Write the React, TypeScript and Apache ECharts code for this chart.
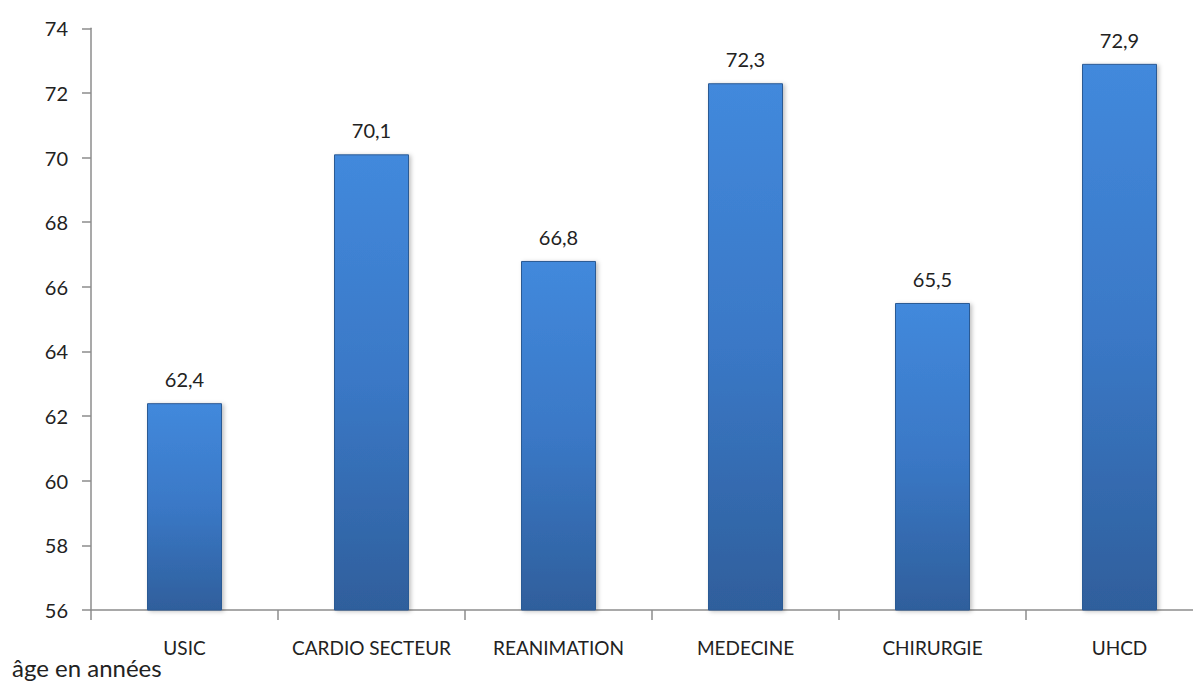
import React, { useEffect, useRef } from "react";
import * as echarts from "echarts";

const categories = ["USIC", "CARDIO SECTEUR", "REANIMATION", "MEDECINE", "CHIRURGIE", "UHCD"];
const values = [62.4, 70.1, 66.8, 72.3, 65.5, 72.9];
const yMin = 56;
const yMax = 74;
const yInterval = 2;
const axisTitle = "âge en années";

export default function App() {
  const ref = useRef<HTMLDivElement>(null);
  useEffect(() => {
    if (!ref.current) return;
    const chart = echarts.init(ref.current, null, { renderer: "svg" });
    const font = "Lato, 'Open Sans', sans-serif";
    chart.setOption({
      animation: false,
      backgroundColor: "#ffffff",
      grid: { left: 91, top: 28.3, width: 1122, bottom: 77, containLabel: false },
      xAxis: {
        type: "category",
        data: categories,
        boundaryGap: true,
        axisLine: { lineStyle: { color: "#8c8c8c", width: 1.5 } },
        axisTick: { show: true, length: 10, lineStyle: { color: "#8c8c8c", width: 1.5 } },
        axisLabel: { color: "#222", fontSize: 19, fontFamily: font, margin: 28, interval: 0 },
      },
      yAxis: {
        type: "value",
        min: yMin,
        max: yMax,
        interval: yInterval,
        axisLine: { show: true, lineStyle: { color: "#8c8c8c", width: 1.5 } },
        axisTick: { show: true, length: 9, lineStyle: { color: "#8c8c8c", width: 1.5 } },
        splitLine: { show: false },
        axisLabel: { color: "#222", fontSize: 20, fontFamily: font, margin: 23 },
      },
      graphic: [
        {
          type: "text",
          left: 12,
          top: 655,
          style: { text: axisTitle, fontSize: 24, fontFamily: font, fill: "#222" },
        },
      ],
      series: [
        {
          type: "bar",
          data: values,
          barWidth: 75,
          itemStyle: {
            color: {
              type: "linear",
              x: 0,
              y: 0,
              x2: 0,
              y2: 1,
              colorStops: [
                { offset: 0, color: "#4289dc" },
                { offset: 0.5, color: "#3a78c6" },
                { offset: 1, color: "#2f5f9c" },
              ],
            },
            borderColor: "#2c5a94",
            borderWidth: 1,
            shadowColor: "rgba(0,0,0,0.25)",
            shadowBlur: 4,
            shadowOffsetX: 2,
            shadowOffsetY: 1,
          },
          label: {
            show: true,
            position: "top",
            distance: 14,
            color: "#222",
            fontSize: 20,
            fontFamily: font,
            formatter: (p: any) => String(p.value).replace(".", ","),
          },
        },
      ],
    });
    return () => chart.dispose();
  }, []);
  return (
    <div style={{ position: "absolute", left: 0, top: 0, width: 1193, height: 687, overflow: "hidden" }}>
      <div ref={ref} style={{ position: "absolute", left: 0, top: 0, width: 1240, height: 687 }} />
    </div>
  );
}
